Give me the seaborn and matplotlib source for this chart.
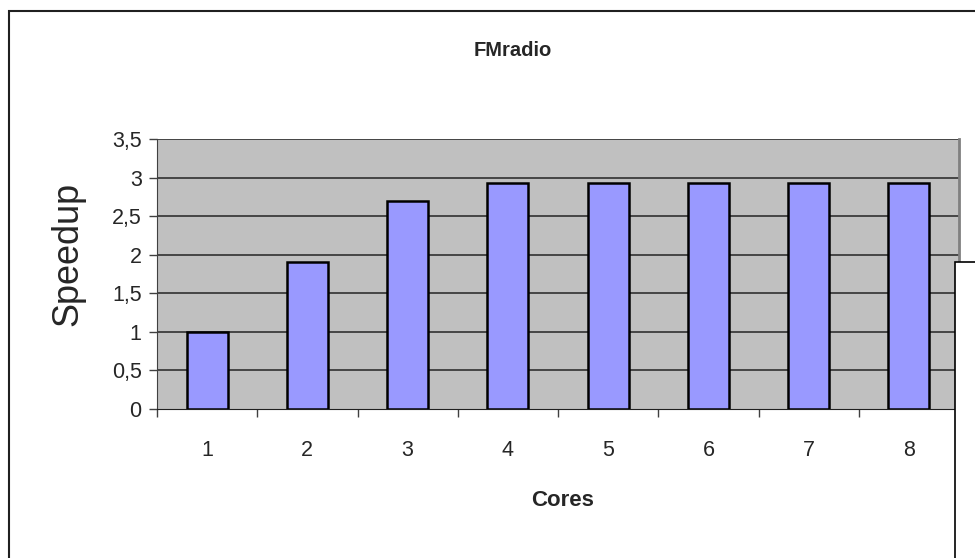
import matplotlib
matplotlib.use("Agg")
import matplotlib.pyplot as plt
from matplotlib.patches import Rectangle
import seaborn as sns
import pandas as pd

# données
cores = ["1", "2", "3", "4", "5", "6", "7", "8"]
speedup = [1.0, 1.9, 2.7, 2.93, 2.93, 2.93, 2.93, 2.93]
y_ticks = [0, 0.5, 1, 1.5, 2, 2.5, 3, 3.5]
y_labels = ["0", "0,5", "1", "1,5", "2", "2,5", "3", "3,5"]

df = pd.DataFrame({"Cores": cores, "Speedup": speedup})

sns.set_style("white")
plt.rcParams['font.family'] = ['Liberation Sans', 'DejaVu Sans']

W, H = 975, 558
fig = plt.figure(figsize=(W / 100, H / 100), dpi=100)
fig.patch.set_facecolor("white")

# zone de tracé (pixels -> coordonnées figure)
left, right, top, bottom = 157, 959, 139, 409
ax = fig.add_axes([left / W, (H - bottom) / H, (right - left) / W, (bottom - top) / H])
ax.set_facecolor("#c0c0c0")

sns.barplot(data=df, x="Cores", y="Speedup", ax=ax, color="#9999ff", saturation=1,
            width=0.41, edgecolor="black", linewidth=1.8, zorder=3)

ax.set_xlim(-0.5, len(cores) - 0.5)
ax.set_ylim(0, 3.5)
ax.set_yticks(y_ticks)
ax.set_yticklabels(y_labels)
for y in y_ticks[1:]:
    ax.axhline(y, color="#303030", linewidth=1.2, zorder=1)

# graduations entre les catégories
ax.set_xticks([i - 0.5 for i in range(len(cores) + 1)], minor=True)
ax.tick_params(axis="x", which="minor", length=6, width=1, color="#404040", direction="out", bottom=True)
ax.tick_params(axis="x", which="major", length=0, pad=22, labelsize=15.5)
ax.tick_params(axis="y", which="major", length=6, width=1, color="#404040", direction="out",
               left=True, pad=5, labelsize=15.5)

ax.spines["top"].set_visible(False)
ax.spines["right"].set_color("#808080")
ax.spines["right"].set_linewidth(2)
ax.spines["left"].set_color("#404040")
ax.spines["bottom"].set_color("#202020")

ax.set_xlabel("")
ax.set_ylabel("")
fig.text(68 / W, 1 - 254 / H, "Speedup", fontsize=26, rotation=90, ha="center", va="center")
fig.text(563 / W, 1 - 501 / H, "Cores", fontsize=16, fontweight="bold", ha="center", va="center")
fig.text(513 / W, 1 - 50 / H, "FMradio", fontsize=14.5, fontweight="bold", ha="center", va="center")

# cadre du graphique et boîte de légende (coupée)
fig.add_artist(Rectangle((9 / W, -0.05), 1.2, 1 - 11 / H + 0.05, transform=fig.transFigure,
                         fill=False, edgecolor="#202020", linewidth=1.5, clip_on=False))
fig.add_artist(Rectangle((955 / W, -0.05), 0.2, 1 - 262 / H + 0.05, transform=fig.transFigure,
                         facecolor="white", edgecolor="black", linewidth=1.2, clip_on=False, zorder=5))

fig.savefig("out.png", dpi=100)
